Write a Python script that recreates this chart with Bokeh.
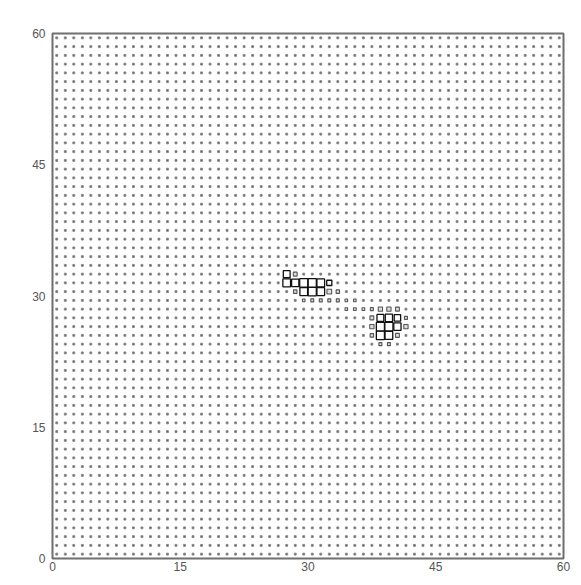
import numpy as np
from bokeh.plotting import figure
from bokeh.models import ColumnDataSource, FixedTicker
from bokeh.embed import file_html
from bokeh.resources import INLINE

# grid dimensions and tick labels
N_COLS = 60
N_ROWS = 60
x_ticks = [0, 15, 30, 45, 60]
y_ticks = [0, 15, 30, 45, 60]

# background cell value (all ordinary cells)
base_value = 0.22

# cells with larger values: column, row, value (fraction of cell size)
hi_col = [27, 28,
          27, 28, 29, 30, 31, 32,
          28, 29, 30, 31, 32, 33,
          29, 30, 31, 32, 33, 34, 35,
          34, 35, 36, 37,
          37, 38, 39, 40,
          37, 38, 39, 40, 41,
          37, 38, 39, 40, 41,
          37, 38, 39, 40,
          38, 39]
hi_row = [32, 32,
          31, 31, 31, 31, 31, 31,
          30, 30, 30, 30, 30, 30,
          29, 29, 29, 29, 29, 29, 29,
          28, 28, 28, 28,
          28, 28, 28, 28,
          27, 27, 27, 27, 27,
          26, 26, 26, 26, 26,
          25, 25, 25, 25,
          24, 24]
hi_val = [0.8, 0.45,
          0.9, 0.85, 0.95, 0.95, 0.9, 0.6,
          0.4, 0.9, 0.95, 0.9, 0.55, 0.4,
          0.3, 0.35, 0.35, 0.35, 0.35, 0.3, 0.3,
          0.3, 0.32, 0.32, 0.35,
          0.35, 0.5, 0.5, 0.45,
          0.45, 0.8, 0.85, 0.75, 0.35,
          0.5, 0.95, 0.95, 0.85, 0.5,
          0.4, 0.95, 0.9, 0.45,
          0.35, 0.35]

grid = np.full((N_ROWS, N_COLS), base_value)
for c, r, v in zip(hi_col, hi_row, hi_val):
    grid[r, c] = v

xs, ys, ss, lc, lw, fc = [], [], [], [], [], []
for r in range(N_ROWS):
    for c in range(N_COLS):
        v = grid[r, c]
        xs.append(c + 0.5)
        ys.append(r + 0.5)
        ss.append(v)
        if v >= 0.6:
            lc.append("#111111"); lw.append(1.3); fc.append("white")
        elif v > base_value:
            lc.append("#555555"); lw.append(1.1); fc.append("#dddddd")
        else:
            lc.append("#8a8a8a"); lw.append(1.0); fc.append("#555555")

src = ColumnDataSource(dict(x=xs, y=ys, s=ss, lc=lc, lw=lw, fc=fc))

p = figure(output_backend="svg", toolbar_location=None,
           width=573, height=577,
           x_range=(0, 60), y_range=(0, 60),
           min_border_left=52, min_border_right=10,
           min_border_top=33, min_border_bottom=19)
p.frame_width = 511
p.frame_height = 525

p.rect(x="x", y="y", width="s", height="s", source=src,
       fill_color="fc", line_color="lc", line_width="lw")

p.grid.visible = False
p.outline_line_color = "#6e6e6e"
p.outline_line_width = 2
p.background_fill_color = "white"
p.border_fill_color = "white"

for ax in (p.xaxis[0], p.yaxis[0]):
    ax.axis_line_color = None
    ax.major_tick_line_color = None
    ax.minor_tick_line_color = None
    ax.major_tick_out = 0
    ax.major_tick_in = 0
    ax.minor_tick_out = 0
    ax.major_label_text_font = "Liberation Sans"
    ax.major_label_text_font_size = "12px"
    ax.major_label_text_color = "#555555"
p.xaxis[0].ticker = FixedTicker(ticks=x_ticks)
p.yaxis[0].ticker = FixedTicker(ticks=y_ticks)
p.xaxis[0].major_label_standoff = 3
p.yaxis[0].major_label_standoff = 7

open("out.html", "w").write(file_html(p, INLINE))
